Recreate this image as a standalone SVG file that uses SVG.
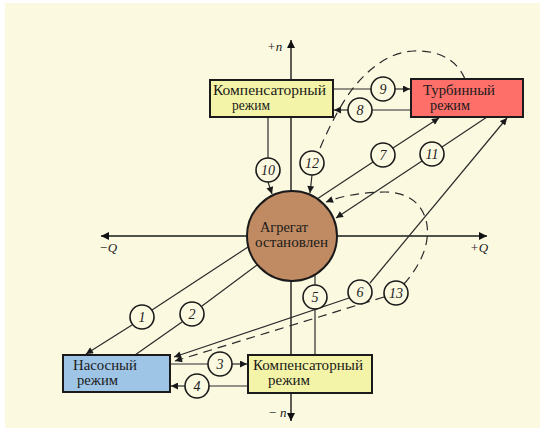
<svg xmlns="http://www.w3.org/2000/svg" width="540" height="428" viewBox="0 0 540 428">
  <defs>
    <marker id="arr" viewBox="0 0 10 10" refX="10" refY="5" markerWidth="9" markerHeight="7" markerUnits="userSpaceOnUse" orient="auto">
      <path d="M0,0 L10,5 L0,10 z" fill="#1a1a1a"/>
    </marker>
    <marker id="axarr" viewBox="0 0 10 10" refX="10" refY="5" markerWidth="12" markerHeight="8" markerUnits="userSpaceOnUse" orient="auto">
      <path d="M0,0 L10,5 L0,10 z" fill="#111"/>
    </marker>
  </defs>
  <style>
    .bg { fill: #fcf9e1; }
    .axis { stroke: #1a1a1a; stroke-width: 1.4; fill: none; }
    .ln { stroke: #2a2a2a; stroke-width: 1.2; fill: none; }
    .dash { stroke: #2a2a2a; stroke-width: 1.2; fill: none; stroke-dasharray: 9 6; }
    .box { stroke: #1a1a1a; stroke-width: 2; }
    .comp { fill: #f4f4a8; }
    .turb { fill: #ff6f6a; }
    .pump { fill: #9fc5e6; }
    .agg { fill: #c08a62; stroke: #1a1a1a; stroke-width: 2; }
    .num circle { fill: #fcf9e1; stroke: #1a1a1a; stroke-width: 1.6; }
    .num text { font-style: italic; font-size: 14px; fill: #222; text-anchor: middle; }
    .lbl { font-size: 14px; fill: #1a1a1a; }
    .axl { font-style: italic; font-size: 13px; fill: #1a1a1a; }
  </style>

  <rect x="0" y="0" width="540" height="428" fill="#ffffff"/>
  <rect class="bg" x="5" y="3" width="535" height="425"/>

  <g font-family="'Liberation Serif', 'Times New Roman', serif">
  <!-- coordinate axes -->
  <g id="axes">
    <line class="axis" x1="291" y1="236" x2="487" y2="236" marker-end="url(#axarr)"/>
    <line class="axis" x1="291" y1="236" x2="101" y2="236" marker-end="url(#axarr)"/>
    <line class="axis" x1="291" y1="236" x2="291" y2="40" marker-end="url(#axarr)"/>
    <line class="axis" x1="291" y1="236" x2="291" y2="421" marker-end="url(#axarr)"/>
    <text class="axl" x="267" y="51">+n</text>
    <text class="axl" x="268" y="417">− n</text>
    <text class="axl" x="99" y="252">−Q</text>
    <text class="axl" x="470" y="252">+Q</text>
  </g>

  <!-- transition paths -->
  <g id="connectors">
    <!-- 10 -->
    <line class="ln" x1="268" y1="117" x2="268" y2="158"/>
    <line class="ln" x1="268" y1="182" x2="272" y2="194" marker-end="url(#arr)"/>
    <!-- 12 -->
    <path class="dash" d="M465,79 C456,58 436,50 414,51 C386,52 362,74 346,98 C334,117 325,136 318,153"/>
    <line class="ln" x1="312" y1="175" x2="310" y2="193" marker-end="url(#arr)"/>
    <!-- 9 -->
    <line class="ln" x1="333" y1="89" x2="371" y2="89"/>
    <line class="ln" x1="395" y1="89" x2="410" y2="89" marker-end="url(#arr)"/>
    <!-- 8 -->
    <line class="ln" x1="411" y1="110" x2="372" y2="110"/>
    <line class="ln" x1="348" y1="110" x2="334" y2="110" marker-end="url(#arr)"/>
    <!-- 7 -->
    <line class="ln" x1="317" y1="199" x2="373" y2="162"/>
    <line class="ln" x1="393" y1="148" x2="439" y2="118" marker-end="url(#arr)"/>
    <!-- 11 -->
    <line class="ln" x1="487" y1="117" x2="442" y2="147"/>
    <line class="ln" x1="422" y1="161" x2="336" y2="218" marker-end="url(#arr)"/>
    <!-- 13 loop and branch -->
    <path class="dash" d="M404,284 C418,268 430,247 427,225 C423,201 405,192 385,192 C362,192 342,196 326,202" marker-end="url(#arr)"/>
    <line class="dash" x1="384" y1="297" x2="175" y2="361" marker-end="url(#arr)"/>
    <!-- 6 -->
    <line class="ln" x1="370" y1="283" x2="507" y2="118" marker-end="url(#arr)"/>
    <line class="ln" x1="349" y1="298" x2="174" y2="357" marker-end="url(#arr)"/>
    <!-- 1 -->
    <line class="ln" x1="248" y1="247" x2="152" y2="310"/>
    <line class="ln" x1="132" y1="325" x2="86" y2="354" marker-end="url(#arr)"/>
    <!-- 2 -->
    <line class="ln" x1="257" y1="265" x2="202" y2="306"/>
    <line class="ln" x1="182" y1="322" x2="135" y2="355"/>
    <!-- 5 -->
    <line class="ln" x1="315" y1="275" x2="315" y2="285"/>
    <line class="ln" x1="315" y1="309" x2="315" y2="355"/>
    <!-- 3 -->
    <line class="ln" x1="170" y1="364" x2="208" y2="364"/>
    <line class="ln" x1="232" y1="364" x2="247" y2="364" marker-end="url(#arr)"/>
    <!-- 4 -->
    <line class="ln" x1="248" y1="386" x2="209" y2="386"/>
    <line class="ln" x1="185" y1="386" x2="171" y2="386" marker-end="url(#arr)"/>
  </g>

  <!-- stopped unit -->
  <g id="stopped">
    <circle class="agg" cx="292" cy="236" r="45"/>
    <text class="lbl" x="260" y="232" textLength="48" lengthAdjust="spacingAndGlyphs">Агрегат</text>
    <text class="lbl" x="255" y="246.5" textLength="73" lengthAdjust="spacingAndGlyphs">остановлен</text>
  </g>

  <g id="comp-top">
    <rect class="box comp" x="210" y="80" width="123" height="37"/>
    <text class="lbl" x="213" y="95" textLength="113" lengthAdjust="spacingAndGlyphs">Компенсаторный</text>
    <text class="lbl" x="232" y="109.5" textLength="38" lengthAdjust="spacingAndGlyphs">режим</text>
  </g>

  <g id="turbine">
    <rect class="box turb" x="411" y="79" width="112" height="38"/>
    <text class="lbl" x="423" y="95" textLength="72" lengthAdjust="spacingAndGlyphs">Турбинный</text>
    <text class="lbl" x="430" y="109.5" textLength="40" lengthAdjust="spacingAndGlyphs">режим</text>
  </g>

  <g id="pump">
    <rect class="box pump" x="63" y="355" width="107" height="37"/>
    <text class="lbl" x="73" y="370" textLength="64" lengthAdjust="spacingAndGlyphs">Насосный</text>
    <text class="lbl" x="77" y="384.5" textLength="41" lengthAdjust="spacingAndGlyphs">режим</text>
  </g>

  <g id="comp-bottom">
    <rect class="box comp" x="248" y="355" width="124" height="38"/>
    <text class="lbl" x="253" y="370" textLength="110" lengthAdjust="spacingAndGlyphs">Компенсаторный</text>
    <text class="lbl" x="268" y="384.5" textLength="42" lengthAdjust="spacingAndGlyphs">режим</text>
  </g>

  <!-- numbered transition markers -->
  <g class="num" id="n1"><circle cx="142" cy="317" r="12"/><text x="142" y="322">1</text></g>
  <g class="num" id="n2"><circle cx="192" cy="314" r="12"/><text x="192" y="319">2</text></g>
  <g class="num" id="n3"><circle cx="220" cy="364" r="12"/><text x="220" y="369">3</text></g>
  <g class="num" id="n4"><circle cx="197" cy="386" r="12"/><text x="197" y="391">4</text></g>
  <g class="num" id="n5"><circle cx="315" cy="297" r="12"/><text x="315" y="302">5</text></g>
  <g class="num" id="n6"><circle cx="360" cy="292" r="12"/><text x="360" y="297">6</text></g>
  <g class="num" id="n7"><circle cx="383" cy="155" r="12"/><text x="383" y="160">7</text></g>
  <g class="num" id="n8"><circle cx="360" cy="110" r="12"/><text x="360" y="115">8</text></g>
  <g class="num" id="n9"><circle cx="383" cy="89" r="12"/><text x="383" y="94">9</text></g>
  <g class="num" id="n10"><circle cx="268" cy="170" r="12"/><text x="268" y="175">10</text></g>
  <g class="num" id="n11"><circle cx="432" cy="154" r="12"/><text x="432" y="159">11</text></g>
  <g class="num" id="n12"><circle cx="312" cy="163" r="12"/><text x="312" y="168">12</text></g>
  <g class="num" id="n13"><circle cx="396" cy="293" r="12"/><text x="396" y="298">13</text></g>
  </g>
</svg>
